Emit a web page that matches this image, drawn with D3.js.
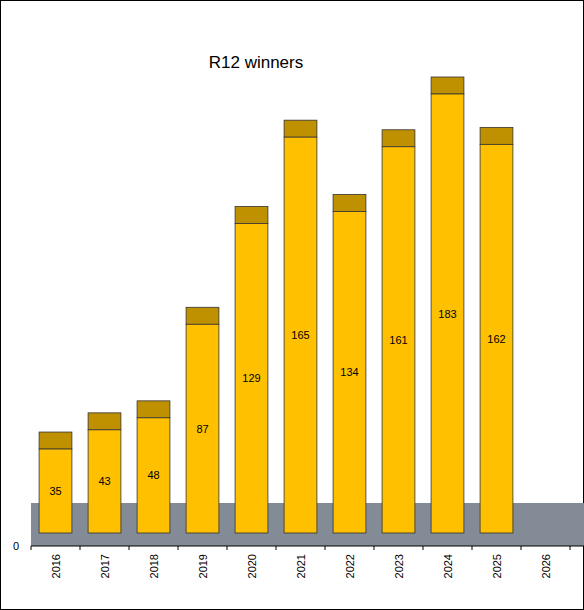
<!DOCTYPE html>
<html>
<head>
  <script src="https://d3js.org/d3.v7.min.js"></script>
  <style>body{margin:0;} text{font-family:Arial,"Liberation Sans",sans-serif;}</style>
</head>
<body>
<script>
  // chart data
  var years = ["2016","2017","2018","2019","2020","2021","2022","2023","2024","2025","2026"];
  var winners = [35, 43, 48, 87, 129, 165, 134, 161, 183, 162, null];

  var W = 584, H = 610;
  var svg = d3.select("body").append("svg").attr("width", W).attr("height", H);

  // frame
  svg.append("rect").attr("x", 0.5).attr("y", 0.5).attr("width", W - 1).attr("height", H - 1)
    .attr("fill", "white").attr("stroke", "black");

  var x = d3.scaleBand().domain(years).range([31, 570]).paddingInner(0.33).paddingOuter(0.165);
  var y = d3.scaleLinear().domain([0, 183]).range([533, 94]);
  var capH = 17;

  // grey floor
  svg.append("rect").attr("x", 31).attr("y", 503).attr("width", W - 31).attr("height", 43)
    .attr("fill", "#838b96");

  // axis
  var axisX = d3.scaleBand().domain(years).range([31, 570]);
  var gx = svg.append("g").attr("transform", "translate(0,546)");
  gx.append("line").attr("x1", 31).attr("x2", W).attr("stroke", "black");
  gx.selectAll("line.tick").data(d3.range(years.length + 1)).enter().append("line")
    .attr("x1", function(i){ return 31 + i * axisX.step(); })
    .attr("x2", function(i){ return 31 + i * axisX.step(); })
    .attr("y1", 0).attr("y2", 4).attr("stroke", "black");
  gx.selectAll("text").data(years).enter().append("text")
    .attr("transform", function(d){ return "translate(" + (axisX(d) + axisX.bandwidth()/2 + 4) + ",8) rotate(-90)"; })
    .attr("text-anchor", "end").attr("font-size", 11).text(function(d){ return d; });
  svg.append("text").attr("x", 19).attr("y", 550).attr("text-anchor", "end").attr("font-size", 11).text("0");

  var data = years.map(function(d, i){ return {year: d, v: winners[i]}; }).filter(function(d){ return d.v != null; });
  var g = svg.selectAll("g.bar").data(data).enter().append("g");
  g.append("rect").attr("x", function(d){ return x(d.year); }).attr("width", x.bandwidth())
    .attr("y", function(d){ return y(d.v) - capH; }).attr("height", capH)
    .attr("fill", "#bf9000").attr("stroke", "#333").attr("stroke-width", 0.8);
  g.append("rect").attr("x", function(d){ return x(d.year); }).attr("width", x.bandwidth())
    .attr("y", function(d){ return y(d.v); }).attr("height", function(d){ return y(0) - y(d.v); })
    .attr("fill", "#ffc000").attr("stroke", "#333").attr("stroke-width", 0.8);
  g.append("text").attr("x", function(d){ return x(d.year) + x.bandwidth()/2; })
    .attr("y", function(d){ return (y(d.v) + y(0)) / 2 + 4; })
    .attr("text-anchor", "middle").attr("font-size", 11).text(function(d){ return d.v; });

  svg.append("text").attr("x", 256).attr("y", 68).attr("text-anchor", "middle").attr("font-size", 17).text("R12 winners");
</script>
</body>
</html>
